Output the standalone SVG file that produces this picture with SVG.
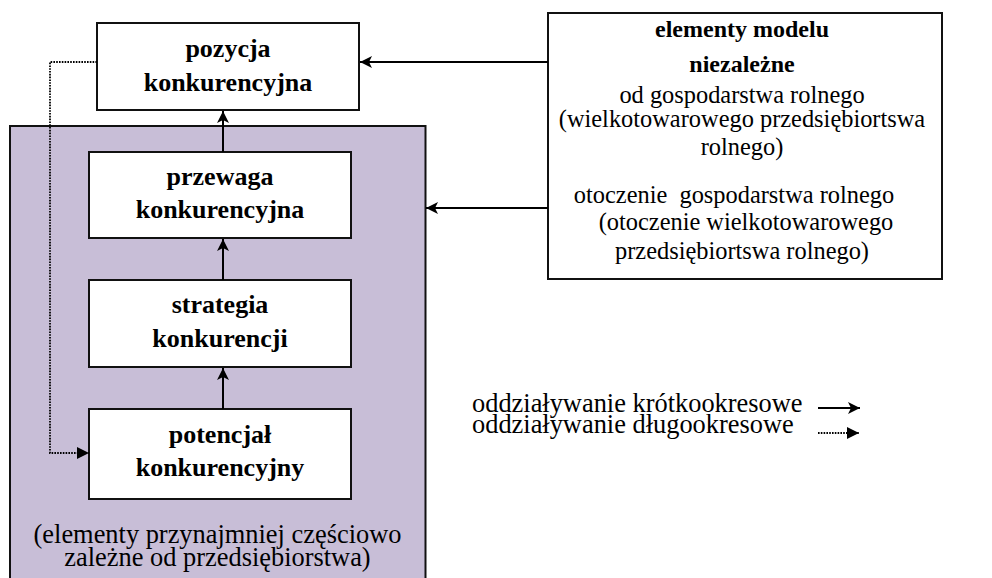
<svg xmlns="http://www.w3.org/2000/svg" width="992" height="578" viewBox="0 0 992 578" font-family="'Liberation Serif', 'Times New Roman', Tinos, 'DejaVu Serif', serif">
<defs>
<style>
text{font-family:'Liberation Serif','Times New Roman',Tinos,'DejaVu Serif',serif;fill:#000}
.box{fill:#fff;stroke:#111;stroke-width:2}
.grp{fill:#c8bed7;stroke:#111;stroke-width:2}
.b26{font-weight:bold;font-size:26px;text-anchor:middle}
.b24{font-weight:bold;font-size:24px;text-anchor:middle}
.r24{font-size:24.4px;text-anchor:middle}
.r26{font-size:26.4px}
.solid{fill:none;stroke:#000;stroke-width:2}
.dot{fill:none;stroke:#000;stroke-width:1.8;stroke-dasharray:1.6,1.2}
</style>
<marker id="ah" viewBox="0 0 12 12" refX="12" refY="6" markerWidth="12" markerHeight="12" markerUnits="userSpaceOnUse" orient="auto">
<path d="M0,0 L12,6 L0,12 L3,6 Z" fill="#000"/>
</marker>
<marker id="ahd" viewBox="0 0 12 12" refX="12" refY="6" markerWidth="12" markerHeight="12" markerUnits="userSpaceOnUse" orient="auto">
<path d="M0,0 L12,6 L0,12 Z" fill="#000"/>
</marker>
</defs>

<g id="group-dependent">
<rect class="grp" x="10" y="126" width="415.5" height="470"/>
<text class="r26" x="217.5" y="543" text-anchor="middle">(elementy przynajmniej częściowo</text>
<text class="r26" x="217.5" y="566" text-anchor="middle">zależne od przedsiębiorstwa)</text>
</g>

<g id="node-pozycja">
<rect class="box" x="97" y="23" width="262" height="87"/>
<text class="b26" x="228" y="57">pozycja</text>
<text class="b26" x="228" y="91">konkurencyjna</text>
</g>

<g id="node-przewaga">
<rect class="box" x="89" y="152" width="262" height="86"/>
<text class="b26" x="220" y="185">przewaga</text>
<text class="b26" x="220" y="218">konkurencyjna</text>
</g>

<g id="node-strategia">
<rect class="box" x="89" y="280" width="262" height="87"/>
<text class="b26" x="220" y="313">strategia</text>
<text class="b26" x="220" y="347">konkurencji</text>
</g>

<g id="node-potencjal">
<rect class="box" x="89" y="409" width="262" height="90"/>
<text class="b26" x="220" y="443">potencjał</text>
<text class="b26" x="220" y="476">konkurencyjny</text>
</g>

<g id="node-external">
<rect class="box" x="548" y="13" width="394" height="266"/>
<text class="b24" x="742" y="37">elementy modelu</text>
<text class="b24" x="742" y="72">niezależne</text>
<text class="r24" x="742" y="103">od gospodarstwa rolnego</text>
<text class="r24" x="742" y="127">(wielkotowarowego przedsiębiortswa</text>
<text class="r24" x="742" y="155">rolnego)</text>
<text class="r24" x="734" y="203">otoczenie&#160; gospodarstwa rolnego</text>
<text class="r24" x="746" y="230">(otoczenie wielkotowarowego</text>
<text class="r24" x="742" y="259">przedsiębiortswa rolnego)</text>
</g>

<g id="legend">
<text class="r26" x="472" y="412">oddziaływanie krótkookresowe</text>
<text class="r26" x="472" y="433">oddziaływanie długookresowe</text>
</g>

<g id="connectors">
<line class="solid" x1="223" y1="152" x2="223" y2="111" marker-end="url(#ah)"/>
<line class="solid" x1="223" y1="280" x2="223" y2="239" marker-end="url(#ah)"/>
<line class="solid" x1="223" y1="409" x2="223" y2="368" marker-end="url(#ah)"/>
<line class="solid" x1="548" y1="62" x2="360" y2="62" marker-end="url(#ah)"/>
<line class="solid" x1="548" y1="208" x2="426" y2="208" marker-end="url(#ah)"/>
<polyline class="dot" points="97,62 50,62 50,453 89,453" marker-end="url(#ahd)"/>
<line class="solid" x1="818" y1="408" x2="860" y2="408" marker-end="url(#ah)"/>
<line class="dot" x1="818" y1="433" x2="859" y2="433" marker-end="url(#ahd)"/>
</g>
</svg>
